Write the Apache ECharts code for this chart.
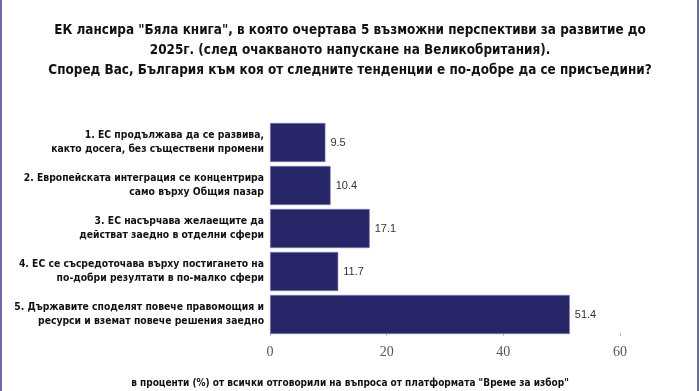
<!DOCTYPE html>
<html><head><meta charset="utf-8">
<script src="https://cdn.jsdelivr.net/npm/echarts@6/dist/echarts.min.js"></script>
<style>
html,body{margin:0;padding:0;background:#fff;}
#c{width:700px;height:391px;position:relative;}
#bl{position:absolute;left:0;top:0;width:2px;height:391px;background:#6b6ba8;z-index:5}
#br{position:absolute;left:697px;top:0;width:2px;height:391px;background:#6b6ba8;z-index:5}
</style></head>
<body><div id="c"></div><div id="bl"></div><div id="br"></div>
<script>
const titleLines = [
  'ЕК лансира "Бяла книга", в която очертава 5 възможни перспективи за развитие до',
  '2025г. (след очакваното напускане на Великобритания).',
  'Според Вас, България към коя от следните тенденции е по-добре да се присъедини?'
];
const categories = [
  '1. ЕС продължава да се развива,\nкакто досега, без съществени промени',
  '2. Европейската интеграция се концентрира\nсамо върху Общия пазар',
  '3. ЕС насърчава желаещите да\nдействат заедно в отделни сфери',
  '4. ЕС се съсредоточава върху постигането на\nпо-добри резултати в по-малко сфери',
  '5. Държавите споделят повече правомощия и\nресурси и вземат повече решения заедно'
];
const values = [9.5, 10.4, 17.1, 11.7, 51.4];
const xTicks = [0, 20, 40, 60];
const caption = 'в проценти (%) от всички отговорили на въпроса от платформата "Време за избор"';

const condensed = '"DejaVu Sans Condensed", "Liberation Sans Narrow", sans-serif';
const chart = echarts.init(document.getElementById('c'));
chart.setOption({
  animation: false,
  title: {
    text: titleLines.join('\n'),
    left: 'center', top: 16,
    textStyle: { fontFamily: condensed, fontWeight: 'bold', fontSize: 13.4, lineHeight: 20, color: '#111' }
  },
  graphic: [{
    type: 'text', left: 'center', top: 378,
    style: { text: caption, fontFamily: condensed, fontWeight: 'bold', fontSize: 10, fill: '#111' }
  }],
  grid: { left: 270, right: 80, top: 121, bottom: 55, outerBoundsMode: 'none', containLabel: false },
  xAxis: {
    type: 'value', min: xTicks[0], max: xTicks[xTicks.length-1], interval: 20,
    axisLine: { show: false },
    splitLine: { show: false },
    axisTick: { show: true, length: -3, lineStyle: { color: '#bbb' } },
    axisLabel: { fontFamily: '"Liberation Serif", "DejaVu Serif", serif', fontSize: 14, color: '#555', margin: 9 }
  },
  yAxis: {
    type: 'category', data: categories, inverse: true,
    axisLine: { show: false }, axisTick: { show: false },
    axisLabel: { fontFamily: condensed, fontWeight: 'bold', fontSize: 10.3, lineHeight: 14, color: '#111', margin: 6, align: 'right', padding: [0, 0, 5, 0] }
  },
  series: [{
    type: 'bar', data: values, barCategoryGap: '9%',
    itemStyle: { color: '#262669', borderColor: '#8a8ab8', borderWidth: 0.6 },
    label: { show: true, position: 'right', distance: 5, fontFamily: '"Liberation Sans", Arial, sans-serif', fontSize: 11, color: '#333' }
  }]
});
</script></body></html>
